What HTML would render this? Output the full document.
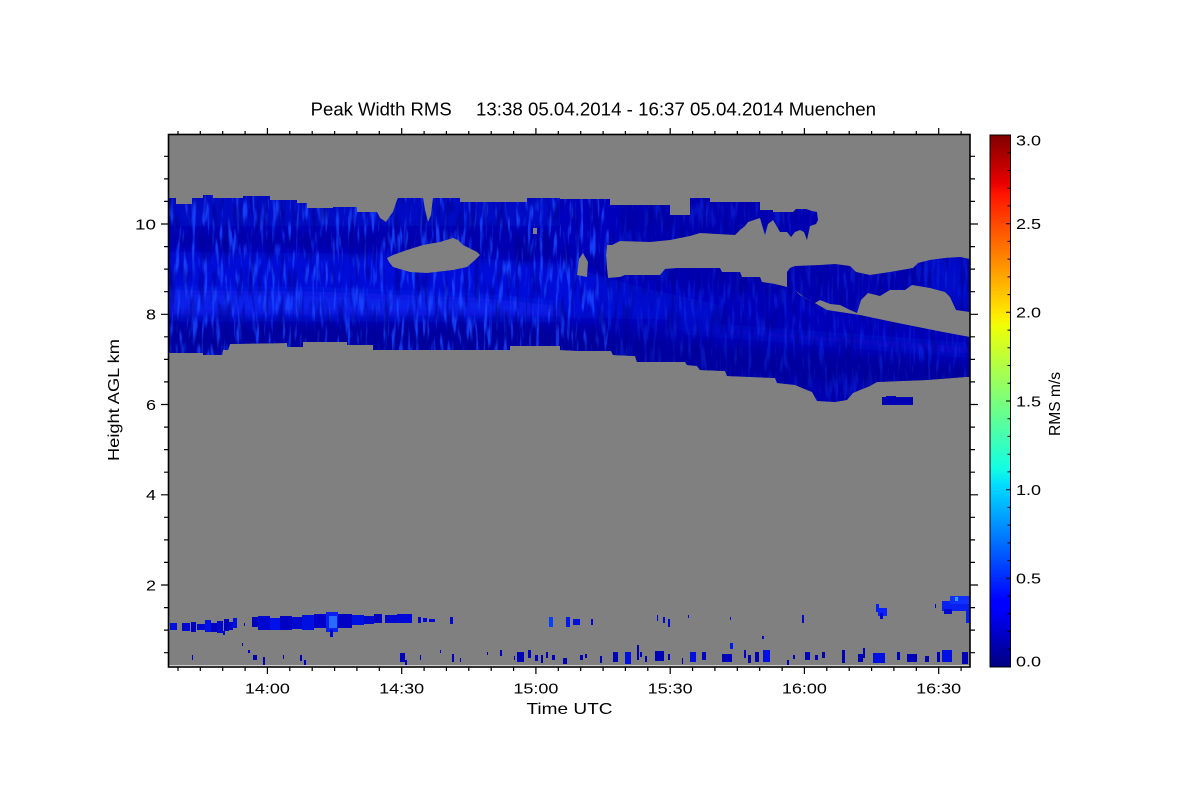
<!DOCTYPE html>
<html><head><meta charset="utf-8"><style>
html,body{margin:0;padding:0;background:#fff;}
svg{display:block;}
text{font-family:"Liberation Sans",Arial,sans-serif;fill:#000;}
</style></head><body>
<svg width="1200" height="800" viewBox="0 0 1200 800" xmlns="http://www.w3.org/2000/svg">
<defs>
<clipPath id="band"><path d="M169,198 L176,198 L176,204 L192,204 L192,198 L203,198 L203,195 L213,195 L213,198 L243,198 L243,196 L270,196 L270,200 L297,200 L297,203 L307,203 L307,208 L333,208 L333,207 L357,207 L357,212 L377,212 L380,218 L386,222 L390,216 L393,212 L397,200 L398,198 L423,198 L425,210 L428,222 L431,215 L433,198 L460,198 L460,202 L527,202 L527,198 L560,198 L560,199 L610,199 L610,205 L670,205 L670,215 L690,215 L690,198 L710,198 L710,202 L760,202 L760,210 L773,210 L773,212 L793,212 L796,209 L806,209 L812,211 L817,212 L818,220 L816,224 L810,226 L807,240 L804,232 L800,230 L795,232 L791,237 L787,232 L780,232 L776,225 L773,220 L768,224 L765,235 L762,225 L760,218 L748,222 L745,226 L740,230 L735,235 L700,233 L690,236 L670,240 L650,242 L620,241 L612,245 L607,245 L606,255 L607,268 L608,278 L620,277 L625,275 L660,275 L665,269 L677,268 L720,268 L722,272 L740,272 L742,277 L760,277 L762,282 L775,284 L787,287 L787,272 L790,268 L795,266 L820,265 L835,264 L850,266 L856,272 L870,275 L890,272 L913,268 L918,263 L930,260 L945,258 L960,257 L970,259 L970,377 L965,377 L927,380 L877,382 L870,386 L860,390 L853,393 L847,400 L835,402 L817,401 L812,392 L807,390 L795,385 L777,383 L775,378 L727,376 L725,371 L700,370 L697,366 L687,365 L685,362 L637,362 L635,356 L613,355 L611,351 L580,351 L560,350 L560,346 L510,346 L510,350 L373,350 L373,345 L347,345 L347,342 L303,342 L303,347 L287,347 L287,343 L230,344 L228,350 L223,350 L222,355 L203,355 L203,353 L169,353 Z"/></clipPath>
<filter id="bl" x="-20%" y="-20%" width="140%" height="140%"><feGaussianBlur stdDeviation="5"/></filter>
<filter id="nz" x="0" y="0" width="1" height="1" color-interpolation-filters="sRGB">
<feTurbulence type="fractalNoise" baseFrequency="0.25 0.035" numOctaves="2" seed="5"/>
<feColorMatrix type="matrix" values="0 0 0 0 0.1  0 0 0 0 0.28  0 0 0 0 1  4.5 0 0 0 -2.3"/>
</filter>
<filter id="nzd" x="0" y="0" width="1" height="1" color-interpolation-filters="sRGB">
<feTurbulence type="fractalNoise" baseFrequency="0.2 0.03" numOctaves="2" seed="11"/>
<feColorMatrix type="matrix" values="0 0 0 0 0  0 0 0 0 0  0 0 0 0 0.55  4.5 0 0 0 -2.3"/>
</filter>
<linearGradient id="jet" x1="0" y1="1" x2="0" y2="0">
<stop offset="0" stop-color="#000080"/>
<stop offset="0.11" stop-color="#0000ff"/>
<stop offset="0.125" stop-color="#0000ff"/>
<stop offset="0.34" stop-color="#00dbff"/>
<stop offset="0.375" stop-color="#14ffe2"/>
<stop offset="0.5" stop-color="#7bff7b"/>
<stop offset="0.64" stop-color="#eeff08"/>
<stop offset="0.66" stop-color="#ffec00"/>
<stop offset="0.75" stop-color="#ff9700"/>
<stop offset="0.89" stop-color="#ff1300"/>
<stop offset="0.91" stop-color="#e80000"/>
<stop offset="1" stop-color="#800000"/>
</linearGradient>
</defs>

<!-- plot background -->
<rect x="169" y="135" width="801" height="531" fill="#808080"/>

<!-- main cloud band -->
<g clip-path="url(#band)">
<rect x="169" y="190" width="801" height="220" fill="#0000b0"/>
<g filter="url(#bl)">
<polygon points="169,196 560,196 560,226 169,226" fill="#0812d4" opacity="0.6"/>
<polygon points="560,196 620,196 620,250 560,250" fill="#0810d0" opacity="0.4"/>
<polygon points="169,252 420,254 560,264 640,287 720,305 720,320 560,318 169,318" fill="#0814e4" opacity="0.75"/>
<polygon points="169,290 330,292 480,298 560,306 560,316 330,315 169,315" fill="#1432ff" opacity="0.5"/>
<polygon points="600,274 970,322 970,345 600,305" fill="#0006c4" opacity="0.55"/>
<polygon points="169,322 560,326 700,345 970,365 970,385 169,360" fill="#00009c" opacity="0.8"/>
<polygon points="680,324 970,346 970,355 680,331" fill="#1028ff" opacity="0.45"/>
<polygon points="925,255 970,255 970,312 925,300" fill="#0816e0" opacity="0.5"/>
</g>
<rect x="169" y="190" width="440" height="220" filter="url(#nz)" opacity="0.85"/>
<rect x="609" y="190" width="361" height="220" filter="url(#nz)" opacity="0.3"/>
<rect x="169" y="190" width="801" height="220" filter="url(#nzd)" opacity="0.5"/>
</g>

<!-- gray holes -->
<g fill="#808080">
<polygon points="387,258 393,255 407,250 423,245 440,242 453,238 458,240 463,245 477,252 480,255 475,260 467,267 453,270 427,273 410,272 393,267 389,262"/>
<polygon points="795,290 805,298 815,303 820,300 830,304 840,305 850,310 857,313 861,300 868,293 880,296 890,290 905,290 912,285 930,288 945,292 950,297 956,310 970,312 970,337 943,332 893,322 860,315 827,310 813,302 800,295"/>
<polygon points="577,275 579,259 583,253 588,262 587,277"/>
<rect x="533" y="228" width="4" height="6"/>
</g>

<!-- small rectangle near 6 km -->
<rect x="882" y="397" width="31" height="8" fill="#0000b4"/>
<rect x="886" y="396" width="10" height="2" fill="#0000b4"/>

<!-- low clouds -->
<g fill="#0008d0">
<rect x="170" y="623" width="7" height="7" fill="#0010e0"/>
<rect x="182" y="623" width="8" height="8"/>
<rect x="191" y="622" width="5" height="10" fill="#0000b8"/>
<rect x="197" y="624" width="8" height="6"/>
<rect x="205" y="620" width="6" height="12" fill="#0010e8"/>
<rect x="211" y="623" width="6" height="9" fill="#0000c0"/>
<rect x="217" y="621" width="6" height="12"/>
<rect x="224" y="619" width="5" height="12" fill="#0000b8"/>
<rect x="229" y="622" width="4" height="8"/>
<rect x="233" y="618" width="4" height="10" fill="#0010e0"/>
<rect x="223" y="631" width="2" height="4"/>
<rect x="244" y="623" width="1" height="3"/>
<rect x="252" y="617" width="8" height="10" fill="#0000c0"/>
<rect x="258" y="616" width="12" height="14"/>
<rect x="270" y="618" width="10" height="12" fill="#0010e8"/>
<rect x="280" y="616" width="12" height="14" fill="#0000c4"/>
<rect x="292" y="617" width="10" height="12"/>
<rect x="302" y="615" width="12" height="15" fill="#0010e0"/>
<rect x="314" y="614" width="12" height="14" fill="#0000c8"/>
<rect x="326" y="612" width="12" height="20" fill="#0a20f0"/>
<rect x="329" y="616" width="8" height="12" fill="#2a6aff"/>
<rect x="330" y="630" width="3" height="7"/>
<rect x="338" y="614" width="14" height="14" fill="#0000c4"/>
<rect x="352" y="615" width="12" height="10" fill="#0010e0"/>
<rect x="364" y="616" width="10" height="8"/>
<rect x="374" y="614" width="8" height="9" fill="#0000c0"/>
<rect x="385" y="615" width="12" height="8"/>
<rect x="397" y="614" width="15" height="9" fill="#0008d8"/>
<rect x="418" y="617" width="3" height="6"/>
<rect x="423" y="618" width="4" height="4"/>
<rect x="429" y="619" width="6" height="3"/>
<rect x="450" y="617" width="3" height="7"/>
<rect x="549" y="617" width="4" height="10" fill="#0040ff"/>
<rect x="566" y="617" width="4" height="10" fill="#0018f0"/>
<rect x="573" y="619" width="7" height="6" fill="#0010e0"/>
<rect x="591" y="619" width="2" height="6"/>
<rect x="657" y="615" width="1" height="6"/>
<rect x="663" y="617" width="2" height="6"/>
<rect x="668" y="619" width="2" height="8"/>
<rect x="688" y="615" width="1" height="3"/>
<rect x="730" y="617" width="1" height="3"/>
<rect x="762" y="636" width="2" height="3"/>
<rect x="802" y="615" width="2" height="8"/>
<rect x="876" y="604" width="3" height="8" fill="#0020ff"/>
<rect x="878" y="608" width="9" height="8" fill="#0a20ff"/>
<rect x="880" y="613" width="3" height="6"/>
<rect x="935" y="604" width="1" height="4"/>
<rect x="942" y="601" width="28" height="10" fill="#0820f0"/>
<rect x="950" y="596" width="20" height="8" fill="#1030ff"/>
<rect x="955" y="597" width="3" height="4" fill="#30a0ff"/>
<rect x="966" y="611" width="4" height="12" fill="#0020ff"/>
<rect x="944" y="609" width="8" height="5"/>
</g>

<!-- ground clutter -->
<g fill="#0000b8">
<rect x="192" y="655" width="1" height="5"/><rect x="242" y="643" width="1" height="3"/><rect x="248" y="650" width="2" height="3"/>
<rect x="253" y="655" width="4" height="5"/><rect x="263" y="657" width="2" height="8"/><rect x="283" y="655" width="1" height="4"/>
<rect x="300" y="655" width="2" height="6"/><rect x="304" y="660" width="2" height="5"/><rect x="400" y="653" width="5" height="9"/>
<rect x="405" y="660" width="2" height="5"/><rect x="420" y="655" width="1" height="5"/><rect x="440" y="650" width="1" height="3"/>
<rect x="452" y="654" width="2" height="8"/><rect x="460" y="658" width="1" height="4"/><rect x="487" y="652" width="1" height="3"/>
<rect x="500" y="650" width="2" height="6"/><rect x="514" y="656" width="1" height="4"/><rect x="517" y="652" width="7" height="10"/>
<rect x="528" y="650" width="3" height="8"/><rect x="535" y="655" width="3" height="6"/><rect x="541" y="655" width="2" height="8"/>
<rect x="546" y="652" width="2" height="6"/><rect x="552" y="655" width="3" height="5"/><rect x="563" y="658" width="4" height="6"/>
<rect x="580" y="655" width="3" height="5"/><rect x="585" y="654" width="2" height="4"/><rect x="600" y="656" width="2" height="7"/>
<rect x="613" y="652" width="5" height="10"/><rect x="625" y="652" width="6" height="12" fill="#0010e0"/><rect x="637" y="645" width="2" height="15"/>
<rect x="640" y="652" width="2" height="5"/><rect x="645" y="656" width="2" height="6"/><rect x="655" y="651" width="9" height="10"/>
<rect x="668" y="654" width="2" height="6"/><rect x="682" y="658" width="1" height="6"/><rect x="690" y="652" width="6" height="10" fill="#0010e0"/>
<rect x="702" y="652" width="4" height="8"/><rect x="722" y="654" width="10" height="8"/><rect x="730" y="643" width="3" height="6" fill="#0018f0"/>
<rect x="744" y="650" width="2" height="8"/><rect x="748" y="655" width="3" height="8"/><rect x="755" y="652" width="4" height="10"/>
<rect x="763" y="650" width="7" height="12" fill="#0010e0"/><rect x="787" y="660" width="2" height="5"/><rect x="793" y="655" width="2" height="4"/>
<rect x="805" y="652" width="5" height="8"/><rect x="815" y="655" width="3" height="5"/><rect x="822" y="652" width="3" height="6"/>
<rect x="842" y="650" width="3" height="13"/><rect x="858" y="654" width="5" height="8"/><rect x="863" y="648" width="2" height="10"/>
<rect x="873" y="653" width="12" height="10" fill="#0010e0"/><rect x="897" y="652" width="3" height="8"/><rect x="907" y="654" width="10" height="8"/>
<rect x="925" y="656" width="4" height="6"/><rect x="937" y="652" width="3" height="10"/><rect x="942" y="650" width="10" height="12" fill="#0010e0"/>
<rect x="962" y="652" width="6" height="12"/>
</g>

<!-- bottom light line -->
<line x1="169" y1="665.8" x2="970" y2="665.8" stroke="#e8e8e8" stroke-width="1"/>

<!-- frame -->
<rect x="168.5" y="134.5" width="801.5" height="532.5" fill="none" stroke="#000" stroke-width="1.6"/>

<!-- ticks -->
<g stroke="#000" stroke-width="1.2" fill="none">
<path d="M178,135V131M200.3,135V131M222.7,135V131M245.1,135V131M289.8,135V131M312.2,135V131M334.6,135V131M356.9,135V131M379.3,135V131M424.1,135V131M446.4,135V131M468.8,135V131M491.2,135V131M513.6,135V131M558.3,135V131M580.7,135V131M603.1,135V131M625.4,135V131M647.8,135V131M692.6,135V131M714.9,135V131M737.3,135V131M759.7,135V131M782.1,135V131M826.8,135V131M849.2,135V131M871.6,135V131M893.9,135V131M916.3,135V131M961.1,135V131"/>
<path d="M267.4,135V128M401.7,135V128M535.9,135V128M670.2,135V128M804.4,135V128M938.7,135V128"/>
<path d="M178,667V671M200.3,667V671M222.7,667V671M245.1,667V671M289.8,667V671M312.2,667V671M334.6,667V671M356.9,667V671M379.3,667V671M424.1,667V671M446.4,667V671M468.8,667V671M491.2,667V671M513.6,667V671M558.3,667V671M580.7,667V671M603.1,667V671M625.4,667V671M647.8,667V671M692.6,667V671M714.9,667V671M737.3,667V671M759.7,667V671M782.1,667V671M826.8,667V671M849.2,667V671M871.6,667V671M893.9,667V671M916.3,667V671M961.1,667V671"/>
<path d="M267.4,667V674M401.7,667V674M535.9,667V674M670.2,667V674M804.4,667V674M938.7,667V674"/>
<path d="M169,652.7H164M169,630.1H164M169,607.6H164M169,562.4H164M169,539.9H164M169,517.3H164M169,472.2H164M169,449.6H164M169,427.1H164M169,381.9H164M169,359.4H164M169,336.8H164M169,291.7H164M169,269.1H164M169,246.6H164M169,201.4H164M169,178.9H164M169,156.3H164"/>
<path d="M169,585H161M169,494.8H161M169,404.5H161M169,314.3H161M169,224H161"/>
<path d="M970,652.7H975M970,630.1H975M970,607.6H975M970,562.4H975M970,539.9H975M970,517.3H975M970,472.2H975M970,449.6H975M970,427.1H975M970,381.9H975M970,359.4H975M970,336.8H975M970,291.7H975M970,269.1H975M970,246.6H975M970,201.4H975M970,178.9H975M970,156.3H975"/>
<path d="M970,585H978M970,494.8H978M970,404.5H978M970,314.3H978M970,224H978"/>
</g>

<!-- tick labels -->
<g font-size="15">
<text x="267.4" y="693.5" text-anchor="middle" textLength="45" lengthAdjust="spacingAndGlyphs">14:00</text>
<text x="401.7" y="693.5" text-anchor="middle" textLength="45" lengthAdjust="spacingAndGlyphs">14:30</text>
<text x="535.9" y="693.5" text-anchor="middle" textLength="45" lengthAdjust="spacingAndGlyphs">15:00</text>
<text x="670.2" y="693.5" text-anchor="middle" textLength="45" lengthAdjust="spacingAndGlyphs">15:30</text>
<text x="804.4" y="693.5" text-anchor="middle" textLength="45" lengthAdjust="spacingAndGlyphs">16:00</text>
<text x="938.7" y="693.5" text-anchor="middle" textLength="45" lengthAdjust="spacingAndGlyphs">16:30</text>
<text x="156" y="590.4" text-anchor="end" textLength="10" lengthAdjust="spacingAndGlyphs">2</text>
<text x="156" y="500.2" text-anchor="end" textLength="10" lengthAdjust="spacingAndGlyphs">4</text>
<text x="156" y="409.9" text-anchor="end" textLength="10" lengthAdjust="spacingAndGlyphs">6</text>
<text x="156" y="319.7" text-anchor="end" textLength="10" lengthAdjust="spacingAndGlyphs">8</text>
<text x="156" y="229.4" text-anchor="end" textLength="21" lengthAdjust="spacingAndGlyphs">10</text>
</g>

<!-- axis titles -->
<text x="310.7" y="115.7" font-size="18" textLength="141" lengthAdjust="spacingAndGlyphs">Peak Width RMS</text>
<text x="476" y="115.7" font-size="18" textLength="400" lengthAdjust="spacingAndGlyphs">13:38 05.04.2014 - 16:37 05.04.2014 Muenchen</text>
<text x="569.5" y="714" font-size="16" text-anchor="middle" textLength="86" lengthAdjust="spacingAndGlyphs">Time UTC</text>
<text transform="translate(119,400) rotate(-90)" x="0" y="0" font-size="16" text-anchor="middle" textLength="122" lengthAdjust="spacingAndGlyphs">Height AGL km</text>

<!-- colorbar -->
<rect x="990" y="135" width="20.5" height="532" fill="url(#jet)" stroke="#000" stroke-width="1"/>
<g stroke="#000" stroke-width="1" fill="none">
<path d="M1010.5,649.3H1007.5M1010.5,631.5H1007.5M1010.5,613.8H1007.5M1010.5,596.1H1007.5M1010.5,578.3H1006M1010.5,560.6H1007.5M1010.5,542.9H1007.5M1010.5,525.1H1007.5M1010.5,507.4H1007.5M1010.5,489.7H1006M1010.5,471.9H1007.5M1010.5,454.2H1007.5M1010.5,436.4H1007.5M1010.5,418.7H1007.5M1010.5,401H1006M1010.5,383.3H1007.5M1010.5,365.5H1007.5M1010.5,347.8H1007.5M1010.5,330.1H1007.5M1010.5,312.3H1006M1010.5,294.6H1007.5M1010.5,276.9H1007.5M1010.5,259.1H1007.5M1010.5,241.4H1007.5M1010.5,223.7H1006M1010.5,205.9H1007.5M1010.5,188.2H1007.5M1010.5,170.5H1007.5M1010.5,152.7H1007.5"/>
</g>
<g font-size="15">
<text x="1016" y="145.5" textLength="25" lengthAdjust="spacingAndGlyphs">3.0</text>
<text x="1016" y="229.1" textLength="25" lengthAdjust="spacingAndGlyphs">2.5</text>
<text x="1016" y="317.7" textLength="25" lengthAdjust="spacingAndGlyphs">2.0</text>
<text x="1016" y="406.4" textLength="25" lengthAdjust="spacingAndGlyphs">1.5</text>
<text x="1016" y="495.1" textLength="25" lengthAdjust="spacingAndGlyphs">1.0</text>
<text x="1016" y="583.7" textLength="25" lengthAdjust="spacingAndGlyphs">0.5</text>
<text x="1016" y="666.5" textLength="25" lengthAdjust="spacingAndGlyphs">0.0</text>
</g>
<text transform="translate(1060,404) rotate(-90)" font-size="16" text-anchor="middle" textLength="64" lengthAdjust="spacingAndGlyphs">RMS m/s</text>
</svg>
</body></html>
